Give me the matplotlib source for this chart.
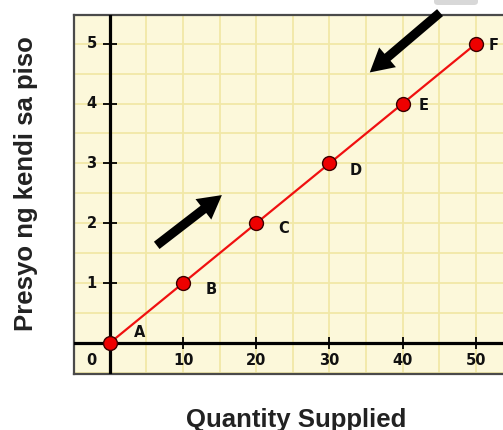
import matplotlib
matplotlib.use("Agg")
import matplotlib.pyplot as plt
from matplotlib.patches import FancyArrowPatch, FancyBboxPatch

# ---- data ----
quantity = [0, 10, 20, 30, 40, 50]
price = [0, 1, 2, 3, 4, 5]
point_labels = ["A", "B", "C", "D", "E", "F"]
x_ticks = [10, 20, 30, 40, 50]
y_ticks = [1, 2, 3, 4, 5]
x_label = "Quantity Supplied"
y_label = "Presyo ng kendi sa piso"

# ---- style ----
label_offsets = [(30, 10), (28, -6), (27, -5), (26, -7), (21, -2), (18, -2)]
bg = "#FCF8DA"
grid_c = "#F1E8A6"

fig = plt.figure(figsize=(5.03, 4.30), dpi=100)
ax = fig.add_axes([74 / 503, (430 - 374) / 430, (503 - 74) / 503, (374 - 15) / 430])
ax.set_facecolor(bg)
ax.set_xlim(-4.9, 53.7)
ax.set_ylim(-0.52, 5.48)

# grid
for gx in range(-5, 60, 5):
    ax.axvline(gx, color=grid_c, lw=1.3, zorder=1)
for i in range(-1, 12):
    ax.axhline(i * 0.5, color=grid_c, lw=1.3, zorder=1)

# frame
for s in ["top", "left", "bottom"]:
    ax.spines[s].set_color("#4a4a4a")
    ax.spines[s].set_linewidth(1.6)
ax.spines["right"].set_visible(False)
ax.set_xticks([])
ax.set_yticks([])

# main axes lines
ax.axvline(0, color="black", lw=2.3, zorder=3)
ax.axhline(0, color="black", lw=2.3, zorder=3)

# tick marks crossing the axes
ax.plot([0] * len(y_ticks), y_ticks, ls="none", marker="_", ms=10, mew=1.3, color="black", zorder=3)
ax.plot(x_ticks, [0] * len(x_ticks), ls="none", marker="|", ms=9, mew=1.3, color="black", zorder=3)

tick_font = dict(fontsize=10.5, fontweight="bold", family="DejaVu Sans", color="#111111")
for yt in y_ticks:
    ax.text(-2.5, yt, str(yt), ha="center", va="center", **tick_font)
for xt in x_ticks:
    ax.text(xt, -0.29, str(xt), ha="center", va="center", **tick_font)
ax.text(-2.5, -0.29, "0", ha="center", va="center", **tick_font)

# supply line and points
ax.plot(quantity, price, color="#F01010", lw=1.6, zorder=4)
ax.plot(quantity, price, ls="none", marker="o", ms=10, mfc="#EE0000", mec="#3a0000", mew=1.0,
        zorder=5, clip_on=False)
for q, p, lab, off in zip(quantity, price, point_labels, label_offsets):
    ax.annotate(lab, (q, p), xytext=off, textcoords="offset pixels", ha="center", va="center",
                fontsize=10.5, fontweight="bold", family="DejaVu Sans", color="#111111", zorder=6)

# arrows
arrow_style = "simple,head_length=1.4,head_width=1.55,tail_width=0.55"
a1 = FancyArrowPatch((6.4, 1.63), (15.3, 2.47), arrowstyle=arrow_style, mutation_scale=12,
                     color="black", lw=0, zorder=6, clip_on=False, shrinkA=0, shrinkB=0)
a2 = FancyArrowPatch((45.1, 5.52), (35.5, 4.52), arrowstyle=arrow_style, mutation_scale=12,
                     color="black", lw=0, zorder=6, clip_on=False, shrinkA=0, shrinkB=0)
ax.add_patch(a1)
ax.add_patch(a2)

# small grey shape at the top edge
fig.patches.append(FancyBboxPatch((434 / 503, 1.0 - 5 / 430), 44 / 503, 8 / 430,
                                  boxstyle="round,pad=0.0,rounding_size=0.008",
                                  transform=fig.transFigure, color="#d8d8d8", lw=0))

# axis titles
title_font = dict(fontsize=18.5, fontweight="bold", family=["Liberation Sans", "DejaVu Sans"], color="#222222")
fig.text(296 / 503, (430 - 426.5) / 430, x_label, ha="center", va="baseline", **title_font)
fig.text(26 / 503, 1 - 184 / 430, y_label, ha="center", va="center", rotation=90, **title_font)

fig.savefig("out.png", dpi=100)
